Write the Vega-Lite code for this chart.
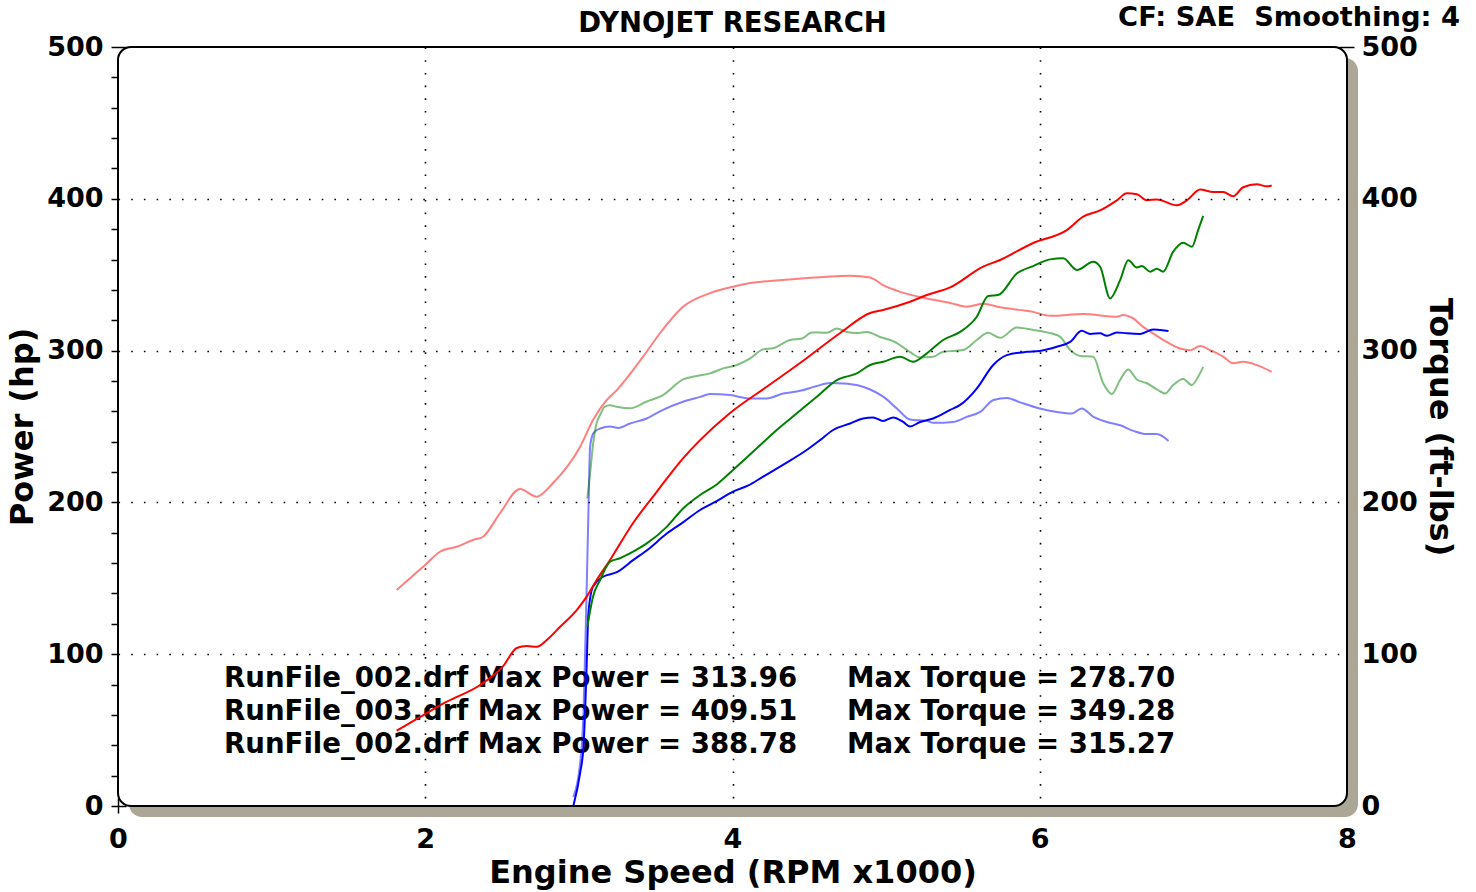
{
  "$schema": "https://vega.github.io/schema/vega-lite/v6.json",
  "width": 1229,
  "height": 759,
  "autosize": {"type": "none"},
  "padding": {"left": 118, "top": 47, "right": 129, "bottom": 86},
  "background": "white",
  "config": {
    "view": {"stroke": null},
    "axis": {
      "domain": false, "offset": -8, "tickSize": 15, "tickWidth": 1.5, "tickColor": "black",
      "labelFont": "DejaVu Sans", "labelFontSize": 27, "labelFontWeight": "bold", "labelColor": "black",
      "titleFont": "DejaVu Sans", "titleFontSize": 32, "titleFontWeight": "bold", "titleColor": "black",
      "gridColor": "black", "gridDash": [1.6, 11.1], "gridWidth": 1.6,
      "labelOverlap": false, "labelFlush": false, "zindex": 1
    },
    "text": {"font": "DejaVu Sans", "fontWeight": "bold", "fontSize": 27.6, "color": "black"}
  },
  "datasets": {
    "curves": [
      {"run":"002a","measure":"Power","rpm":2.965,"value":0.5},
      {"run":"002a","measure":"Power","rpm":3.008,"value":21.7},
      {"run":"002a","measure":"Power","rpm":3.03,"value":39},
      {"run":"002a","measure":"Power","rpm":3.04,"value":61},
      {"run":"002a","measure":"Power","rpm":3.051,"value":94},
      {"run":"002a","measure":"Power","rpm":3.062,"value":127},
      {"run":"002a","measure":"Power","rpm":3.092,"value":144.5},
      {"run":"002a","measure":"Power","rpm":3.157,"value":151},
      {"run":"002a","measure":"Power","rpm":3.247,"value":154},
      {"run":"002a","measure":"Power","rpm":3.353,"value":162},
      {"run":"002a","measure":"Power","rpm":3.45,"value":169},
      {"run":"002a","measure":"Power","rpm":3.572,"value":179.5},
      {"run":"002a","measure":"Power","rpm":3.68,"value":187},
      {"run":"002a","measure":"Power","rpm":3.789,"value":195},
      {"run":"002a","measure":"Power","rpm":3.9,"value":201},
      {"run":"002a","measure":"Power","rpm":4.0,"value":207},
      {"run":"002a","measure":"Power","rpm":4.1,"value":211},
      {"run":"002a","measure":"Power","rpm":4.2,"value":217},
      {"run":"002a","measure":"Power","rpm":4.35,"value":226},
      {"run":"002a","measure":"Power","rpm":4.483,"value":234.5},
      {"run":"002a","measure":"Power","rpm":4.57,"value":241},
      {"run":"002a","measure":"Power","rpm":4.655,"value":247.7},
      {"run":"002a","measure":"Power","rpm":4.766,"value":252},
      {"run":"002a","measure":"Power","rpm":4.85,"value":255.3},
      {"run":"002a","measure":"Power","rpm":4.915,"value":256},
      {"run":"002a","measure":"Power","rpm":4.98,"value":253.7},
      {"run":"002a","measure":"Power","rpm":5.046,"value":256},
      {"run":"002a","measure":"Power","rpm":5.111,"value":253},
      {"run":"002a","measure":"Power","rpm":5.156,"value":250},
      {"run":"002a","measure":"Power","rpm":5.221,"value":253},
      {"run":"002a","measure":"Power","rpm":5.306,"value":255.3},
      {"run":"002a","measure":"Power","rpm":5.417,"value":260.9},
      {"run":"002a","measure":"Power","rpm":5.482,"value":264.2},
      {"run":"002a","measure":"Power","rpm":5.59,"value":275},
      {"run":"002a","measure":"Power","rpm":5.697,"value":290.5},
      {"run":"002a","measure":"Power","rpm":5.786,"value":297},
      {"run":"002a","measure":"Power","rpm":5.916,"value":299.2},
      {"run":"002a","measure":"Power","rpm":6.0,"value":299.8},
      {"run":"002a","measure":"Power","rpm":6.111,"value":302.5},
      {"run":"002a","measure":"Power","rpm":6.198,"value":305.7},
      {"run":"002a","measure":"Power","rpm":6.273,"value":313},
      {"run":"002a","measure":"Power","rpm":6.328,"value":311},
      {"run":"002a","measure":"Power","rpm":6.393,"value":311.4},
      {"run":"002a","measure":"Power","rpm":6.437,"value":309.8},
      {"run":"002a","measure":"Power","rpm":6.502,"value":312},
      {"run":"002a","measure":"Power","rpm":6.567,"value":311.4},
      {"run":"002a","measure":"Power","rpm":6.654,"value":311},
      {"run":"002a","measure":"Power","rpm":6.74,"value":313.96},
      {"run":"002a","measure":"Power","rpm":6.784,"value":313.5},
      {"run":"002a","measure":"Power","rpm":6.838,"value":312.9},

      {"run":"002a","measure":"Torque","rpm":2.964,"value":6},
      {"run":"002a","measure":"Torque","rpm":3.008,"value":28},
      {"run":"002a","measure":"Torque","rpm":3.03,"value":61},
      {"run":"002a","measure":"Torque","rpm":3.047,"value":127},
      {"run":"002a","measure":"Torque","rpm":3.062,"value":193},
      {"run":"002a","measure":"Torque","rpm":3.073,"value":236.7},
      {"run":"002a","measure":"Torque","rpm":3.094,"value":245.5},
      {"run":"002a","measure":"Torque","rpm":3.138,"value":248.7},
      {"run":"002a","measure":"Torque","rpm":3.203,"value":250},
      {"run":"002a","measure":"Torque","rpm":3.257,"value":249},
      {"run":"002a","measure":"Torque","rpm":3.333,"value":252},
      {"run":"002a","measure":"Torque","rpm":3.442,"value":255.3},
      {"run":"002a","measure":"Torque","rpm":3.548,"value":261},
      {"run":"002a","measure":"Torque","rpm":3.678,"value":266.3},
      {"run":"002a","measure":"Torque","rpm":3.789,"value":269.5},
      {"run":"002a","measure":"Torque","rpm":3.854,"value":271.4},
      {"run":"002a","measure":"Torque","rpm":3.984,"value":270.7},
      {"run":"002a","measure":"Torque","rpm":4.115,"value":268.5},
      {"run":"002a","measure":"Torque","rpm":4.223,"value":268.5},
      {"run":"002a","measure":"Torque","rpm":4.33,"value":271.7},
      {"run":"002a","measure":"Torque","rpm":4.44,"value":273.5},
      {"run":"002a","measure":"Torque","rpm":4.549,"value":276.7},
      {"run":"002a","measure":"Torque","rpm":4.635,"value":278.7},
      {"run":"002a","measure":"Torque","rpm":4.722,"value":278.4},
      {"run":"002a","measure":"Torque","rpm":4.809,"value":277.3},
      {"run":"002a","measure":"Torque","rpm":4.896,"value":274.4},
      {"run":"002a","measure":"Torque","rpm":4.983,"value":269.5},
      {"run":"002a","measure":"Torque","rpm":5.07,"value":261.9},
      {"run":"002a","measure":"Torque","rpm":5.156,"value":254.6},
      {"run":"002a","measure":"Torque","rpm":5.265,"value":253.7},
      {"run":"002a","measure":"Torque","rpm":5.308,"value":252.4},
      {"run":"002a","measure":"Torque","rpm":5.438,"value":253},
      {"run":"002a","measure":"Torque","rpm":5.525,"value":256.3},
      {"run":"002a","measure":"Torque","rpm":5.612,"value":259.6},
      {"run":"002a","measure":"Torque","rpm":5.699,"value":267.5},
      {"run":"002a","measure":"Torque","rpm":5.786,"value":268.8},
      {"run":"002a","measure":"Torque","rpm":5.872,"value":265.9},
      {"run":"002a","measure":"Torque","rpm":6.0,"value":261.9},
      {"run":"002a","measure":"Torque","rpm":6.111,"value":259.6},
      {"run":"002a","measure":"Torque","rpm":6.209,"value":258.5},
      {"run":"002a","measure":"Torque","rpm":6.273,"value":261.9},
      {"run":"002a","measure":"Torque","rpm":6.35,"value":256.3},
      {"run":"002a","measure":"Torque","rpm":6.437,"value":253},
      {"run":"002a","measure":"Torque","rpm":6.523,"value":250.8},
      {"run":"002a","measure":"Torque","rpm":6.61,"value":247.1},
      {"run":"002a","measure":"Torque","rpm":6.697,"value":245},
      {"run":"002a","measure":"Torque","rpm":6.762,"value":245},
      {"run":"002a","measure":"Torque","rpm":6.838,"value":240.5},

      {"run":"003","measure":"Power","rpm":1.814,"value":49.6},
      {"run":"003","measure":"Power","rpm":1.999,"value":60.6},
      {"run":"003","measure":"Power","rpm":2.14,"value":68.7},
      {"run":"003","measure":"Power","rpm":2.357,"value":79.7},
      {"run":"003","measure":"Power","rpm":2.507,"value":92.2},
      {"run":"003","measure":"Power","rpm":2.596,"value":104.1},
      {"run":"003","measure":"Power","rpm":2.661,"value":105.4},
      {"run":"003","measure":"Power","rpm":2.726,"value":104.9},
      {"run":"003","measure":"Power","rpm":2.791,"value":109.4},
      {"run":"003","measure":"Power","rpm":2.878,"value":118.1},
      {"run":"003","measure":"Power","rpm":2.986,"value":129.1},
      {"run":"003","measure":"Power","rpm":3.051,"value":137.9},
      {"run":"003","measure":"Power","rpm":3.116,"value":148.9},
      {"run":"003","measure":"Power","rpm":3.203,"value":162.1},
      {"run":"003","measure":"Power","rpm":3.353,"value":186.4},
      {"run":"003","measure":"Power","rpm":3.507,"value":207},
      {"run":"003","measure":"Power","rpm":3.678,"value":229},
      {"run":"003","measure":"Power","rpm":3.789,"value":241},
      {"run":"003","measure":"Power","rpm":3.984,"value":258.9},
      {"run":"003","measure":"Power","rpm":4.223,"value":276.2},
      {"run":"003","measure":"Power","rpm":4.44,"value":291.8},
      {"run":"003","measure":"Power","rpm":4.701,"value":311.6},
      {"run":"003","measure":"Power","rpm":4.896,"value":324.8},
      {"run":"003","measure":"Power","rpm":4.98,"value":326.8},
      {"run":"003","measure":"Power","rpm":5.156,"value":332.2},
      {"run":"003","measure":"Power","rpm":5.265,"value":336.6},
      {"run":"003","measure":"Power","rpm":5.417,"value":341.7},
      {"run":"003","measure":"Power","rpm":5.632,"value":355.3},
      {"run":"003","measure":"Power","rpm":5.742,"value":359.7},
      {"run":"003","measure":"Power","rpm":5.957,"value":370.9},
      {"run":"003","measure":"Power","rpm":6.176,"value":379.4},
      {"run":"003","measure":"Power","rpm":6.283,"value":388.3},
      {"run":"003","measure":"Power","rpm":6.393,"value":392.4},
      {"run":"003","measure":"Power","rpm":6.502,"value":399},
      {"run":"003","measure":"Power","rpm":6.567,"value":403.6},
      {"run":"003","measure":"Power","rpm":6.632,"value":403},
      {"run":"003","measure":"Power","rpm":6.697,"value":399},
      {"run":"003","measure":"Power","rpm":6.762,"value":399.6},
      {"run":"003","measure":"Power","rpm":6.892,"value":395.7},
      {"run":"003","measure":"Power","rpm":6.958,"value":399},
      {"run":"003","measure":"Power","rpm":7.044,"value":406.2},
      {"run":"003","measure":"Power","rpm":7.129,"value":404.5},
      {"run":"003","measure":"Power","rpm":7.194,"value":404.5},
      {"run":"003","measure":"Power","rpm":7.259,"value":401.6},
      {"run":"003","measure":"Power","rpm":7.324,"value":407.6},
      {"run":"003","measure":"Power","rpm":7.413,"value":409.51},
      {"run":"003","measure":"Power","rpm":7.478,"value":408.2},
      {"run":"003","measure":"Power","rpm":7.51,"value":408.8},

      {"run":"003","measure":"Torque","rpm":1.814,"value":142.3},
      {"run":"003","measure":"Torque","rpm":1.999,"value":158.8},
      {"run":"003","measure":"Torque","rpm":2.096,"value":167.5},
      {"run":"003","measure":"Torque","rpm":2.205,"value":170.8},
      {"run":"003","measure":"Torque","rpm":2.311,"value":175.2},
      {"run":"003","measure":"Torque","rpm":2.376,"value":177.4},
      {"run":"003","measure":"Torque","rpm":2.487,"value":193},
      {"run":"003","measure":"Torque","rpm":2.617,"value":208.8},
      {"run":"003","measure":"Torque","rpm":2.726,"value":203.8},
      {"run":"003","measure":"Torque","rpm":2.832,"value":212.8},
      {"run":"003","measure":"Torque","rpm":3.008,"value":236.7},
      {"run":"003","measure":"Torque","rpm":3.092,"value":254.3},
      {"run":"003","measure":"Torque","rpm":3.182,"value":267.5},
      {"run":"003","measure":"Torque","rpm":3.247,"value":274},
      {"run":"003","measure":"Torque","rpm":3.418,"value":296},
      {"run":"003","measure":"Torque","rpm":3.529,"value":311.6},
      {"run":"003","measure":"Torque","rpm":3.678,"value":328.9},
      {"run":"003","measure":"Torque","rpm":3.854,"value":337.9},
      {"run":"003","measure":"Torque","rpm":4.004,"value":342.1},
      {"run":"003","measure":"Torque","rpm":4.115,"value":344.5},
      {"run":"003","measure":"Torque","rpm":4.329,"value":346.5},
      {"run":"003","measure":"Torque","rpm":4.614,"value":348.7},
      {"run":"003","measure":"Torque","rpm":4.766,"value":349.28},
      {"run":"003","measure":"Torque","rpm":4.896,"value":348.2},
      {"run":"003","measure":"Torque","rpm":4.98,"value":343.1},
      {"run":"003","measure":"Torque","rpm":5.091,"value":338.7},
      {"run":"003","measure":"Torque","rpm":5.265,"value":334.3},
      {"run":"003","measure":"Torque","rpm":5.417,"value":331.4},
      {"run":"003","measure":"Torque","rpm":5.525,"value":328.9},
      {"run":"003","measure":"Torque","rpm":5.632,"value":330.8},
      {"run":"003","measure":"Torque","rpm":5.742,"value":328.5},
      {"run":"003","measure":"Torque","rpm":5.957,"value":325.5},
      {"run":"003","measure":"Torque","rpm":6.068,"value":322.9},
      {"run":"003","measure":"Torque","rpm":6.283,"value":324.1},
      {"run":"003","measure":"Torque","rpm":6.502,"value":322.3},
      {"run":"003","measure":"Torque","rpm":6.543,"value":323.5},
      {"run":"003","measure":"Torque","rpm":6.608,"value":321.2},
      {"run":"003","measure":"Torque","rpm":6.673,"value":315.6},
      {"run":"003","measure":"Torque","rpm":6.738,"value":311.3},
      {"run":"003","measure":"Torque","rpm":6.827,"value":305.7},
      {"run":"003","measure":"Torque","rpm":6.914,"value":301.4},
      {"run":"003","measure":"Torque","rpm":6.979,"value":300.3},
      {"run":"003","measure":"Torque","rpm":7.044,"value":303},
      {"run":"003","measure":"Torque","rpm":7.109,"value":300.3},
      {"run":"003","measure":"Torque","rpm":7.194,"value":296},
      {"run":"003","measure":"Torque","rpm":7.259,"value":291.6},
      {"run":"003","measure":"Torque","rpm":7.324,"value":292.6},
      {"run":"003","measure":"Torque","rpm":7.413,"value":290.4},
      {"run":"003","measure":"Torque","rpm":7.51,"value":286},

      {"run":"002b","measure":"Power","rpm":3.055,"value":118},
      {"run":"002b","measure":"Power","rpm":3.092,"value":137.9},
      {"run":"002b","measure":"Power","rpm":3.138,"value":148.9},
      {"run":"002b","measure":"Power","rpm":3.203,"value":160.9},
      {"run":"002b","measure":"Power","rpm":3.268,"value":163.2},
      {"run":"002b","measure":"Power","rpm":3.353,"value":167.5},
      {"run":"002b","measure":"Power","rpm":3.442,"value":173},
      {"run":"002b","measure":"Power","rpm":3.572,"value":183.9},
      {"run":"002b","measure":"Power","rpm":3.678,"value":196},
      {"run":"002b","measure":"Power","rpm":3.789,"value":204.9},
      {"run":"002b","measure":"Power","rpm":3.9,"value":212},
      {"run":"002b","measure":"Power","rpm":4.0,"value":221},
      {"run":"002b","measure":"Power","rpm":4.158,"value":235.6},
      {"run":"002b","measure":"Power","rpm":4.288,"value":247.7},
      {"run":"002b","measure":"Power","rpm":4.419,"value":258.7},
      {"run":"002b","measure":"Power","rpm":4.549,"value":269.6},
      {"run":"002b","measure":"Power","rpm":4.679,"value":280.6},
      {"run":"002b","measure":"Power","rpm":4.809,"value":285},
      {"run":"002b","measure":"Power","rpm":4.896,"value":290.5},
      {"run":"002b","measure":"Power","rpm":4.98,"value":292.6},
      {"run":"002b","measure":"Power","rpm":5.091,"value":296},
      {"run":"002b","measure":"Power","rpm":5.176,"value":292.6},
      {"run":"002b","measure":"Power","rpm":5.265,"value":298.2},
      {"run":"002b","measure":"Power","rpm":5.371,"value":307},
      {"run":"002b","measure":"Power","rpm":5.482,"value":312.3},
      {"run":"002b","measure":"Power","rpm":5.59,"value":322.3},
      {"run":"002b","measure":"Power","rpm":5.664,"value":336},
      {"run":"002b","measure":"Power","rpm":5.729,"value":336.6},
      {"run":"002b","measure":"Power","rpm":5.851,"value":350.8},
      {"run":"002b","measure":"Power","rpm":5.957,"value":355.7},
      {"run":"002b","measure":"Power","rpm":6.068,"value":360.1},
      {"run":"002b","measure":"Power","rpm":6.152,"value":360.8},
      {"run":"002b","measure":"Power","rpm":6.242,"value":353.1},
      {"run":"002b","measure":"Power","rpm":6.348,"value":358.5},
      {"run":"002b","measure":"Power","rpm":6.393,"value":355.2},
      {"run":"002b","measure":"Power","rpm":6.458,"value":334.4},
      {"run":"002b","measure":"Power","rpm":6.523,"value":346.4},
      {"run":"002b","measure":"Power","rpm":6.576,"value":359.6},
      {"run":"002b","measure":"Power","rpm":6.632,"value":354.8},
      {"run":"002b","measure":"Power","rpm":6.665,"value":355.7},
      {"run":"002b","measure":"Power","rpm":6.719,"value":352},
      {"run":"002b","measure":"Power","rpm":6.762,"value":354},
      {"run":"002b","measure":"Power","rpm":6.803,"value":352},
      {"run":"002b","measure":"Power","rpm":6.868,"value":365},
      {"run":"002b","measure":"Power","rpm":6.934,"value":371},
      {"run":"002b","measure":"Power","rpm":6.99,"value":368.4},
      {"run":"002b","measure":"Power","rpm":7.031,"value":379.4},
      {"run":"002b","measure":"Power","rpm":7.064,"value":388.78},

      {"run":"002b","measure":"Torque","rpm":3.055,"value":202.6},
      {"run":"002b","measure":"Torque","rpm":3.073,"value":219},
      {"run":"002b","measure":"Torque","rpm":3.092,"value":238},
      {"run":"002b","measure":"Torque","rpm":3.11,"value":250},
      {"run":"002b","measure":"Torque","rpm":3.14,"value":258},
      {"run":"002b","measure":"Torque","rpm":3.167,"value":263},
      {"run":"002b","measure":"Torque","rpm":3.203,"value":264},
      {"run":"002b","measure":"Torque","rpm":3.247,"value":263},
      {"run":"002b","measure":"Torque","rpm":3.333,"value":262},
      {"run":"002b","measure":"Torque","rpm":3.442,"value":266.5},
      {"run":"002b","measure":"Torque","rpm":3.548,"value":270.7},
      {"run":"002b","measure":"Torque","rpm":3.678,"value":281},
      {"run":"002b","measure":"Torque","rpm":3.768,"value":283.3},
      {"run":"002b","measure":"Torque","rpm":3.854,"value":285},
      {"run":"002b","measure":"Torque","rpm":3.939,"value":288.3},
      {"run":"002b","measure":"Torque","rpm":4.028,"value":290.5},
      {"run":"002b","measure":"Torque","rpm":4.115,"value":294.9},
      {"run":"002b","measure":"Torque","rpm":4.199,"value":300.8},
      {"run":"002b","measure":"Torque","rpm":4.264,"value":301.6},
      {"run":"002b","measure":"Torque","rpm":4.375,"value":307},
      {"run":"002b","measure":"Torque","rpm":4.453,"value":308},
      {"run":"002b","measure":"Torque","rpm":4.518,"value":312},
      {"run":"002b","measure":"Torque","rpm":4.614,"value":311.7},
      {"run":"002b","measure":"Torque","rpm":4.679,"value":314.6},
      {"run":"002b","measure":"Torque","rpm":4.744,"value":312.3},
      {"run":"002b","measure":"Torque","rpm":4.809,"value":311.6},
      {"run":"002b","measure":"Torque","rpm":4.874,"value":312.3},
      {"run":"002b","measure":"Torque","rpm":4.961,"value":309},
      {"run":"002b","measure":"Torque","rpm":5.07,"value":305},
      {"run":"002b","measure":"Torque","rpm":5.156,"value":299},
      {"run":"002b","measure":"Torque","rpm":5.221,"value":295.5},
      {"run":"002b","measure":"Torque","rpm":5.306,"value":296},
      {"run":"002b","measure":"Torque","rpm":5.371,"value":299.2},
      {"run":"002b","measure":"Torque","rpm":5.501,"value":300.4},
      {"run":"002b","measure":"Torque","rpm":5.59,"value":307},
      {"run":"002b","measure":"Torque","rpm":5.664,"value":311.7},
      {"run":"002b","measure":"Torque","rpm":5.742,"value":308.4},
      {"run":"002b","measure":"Torque","rpm":5.851,"value":315.27},
      {"run":"002b","measure":"Torque","rpm":5.957,"value":313.6},
      {"run":"002b","measure":"Torque","rpm":6.046,"value":312},
      {"run":"002b","measure":"Torque","rpm":6.133,"value":309},
      {"run":"002b","measure":"Torque","rpm":6.198,"value":300.4},
      {"run":"002b","measure":"Torque","rpm":6.263,"value":296.5},
      {"run":"002b","measure":"Torque","rpm":6.348,"value":296},
      {"run":"002b","measure":"Torque","rpm":6.413,"value":278.5},
      {"run":"002b","measure":"Torque","rpm":6.469,"value":271.4},
      {"run":"002b","measure":"Torque","rpm":6.523,"value":280.6},
      {"run":"002b","measure":"Torque","rpm":6.576,"value":287.6},
      {"run":"002b","measure":"Torque","rpm":6.632,"value":281},
      {"run":"002b","measure":"Torque","rpm":6.697,"value":278.5},
      {"run":"002b","measure":"Torque","rpm":6.762,"value":274.5},
      {"run":"002b","measure":"Torque","rpm":6.816,"value":271.7},
      {"run":"002b","measure":"Torque","rpm":6.868,"value":277.3},
      {"run":"002b","measure":"Torque","rpm":6.934,"value":281.3},
      {"run":"002b","measure":"Torque","rpm":6.99,"value":277.3},
      {"run":"002b","measure":"Torque","rpm":7.031,"value":282.8},
      {"run":"002b","measure":"Torque","rpm":7.064,"value":289.3}
    ]
  },
  "resolve": {"axis": {"x": "independent", "y": "independent"}},
  "layer": [
    {
      "data": {"values": [{}]},
      "mark": {"type": "rect", "fill": "#aba696", "cornerRadius": 13, "xOffset": 11, "x2Offset": 11, "yOffset": 11, "y2Offset": 11, "clip": false},
      "encoding": {
        "x": {"datum": 0, "type": "quantitative", "scale": {"domain": [0, 8], "nice": false}, "axis": null},
        "x2": {"datum": 8},
        "y": {"datum": 0, "type": "quantitative", "scale": {"domain": [0, 500], "nice": false}, "axis": null},
        "y2": {"datum": 500}
      }
    },
    {
      "data": {"values": [{}]},
      "mark": {"type": "rect", "fill": "white", "stroke": "black", "strokeWidth": 2, "cornerRadius": 13, "clip": false},
      "encoding": {
        "x": {"datum": 0, "type": "quantitative", "scale": {"domain": [0, 8], "nice": false},
          "axis": {"orient": "bottom", "values": [2, 4, 6], "grid": true, "ticks": false, "labels": false, "domain": false, "offset": 0, "title": null, "zindex": 1}},
        "x2": {"datum": 8},
        "y": {"datum": 0, "type": "quantitative", "scale": {"domain": [0, 500], "nice": false},
          "axis": {"orient": "left", "values": [100, 200, 300, 400], "grid": true, "ticks": false, "labels": false, "domain": false, "offset": 0, "title": null, "zindex": 1}},
        "y2": {"datum": 500}
      }
    },
    {
      "data": {"values": [
        {"run": "RunFile_002.drf", "maxPower": 313.96, "maxTorque": 278.70, "baseline": 78.6},
        {"run": "RunFile_003.drf", "maxPower": 409.51, "maxTorque": 349.28, "baseline": 56.6},
        {"run": "RunFile_002.drf", "maxPower": 388.78, "maxTorque": 315.27, "baseline": 34.6}
      ]},
      "transform": [
        {"calculate": "datum.run + ' Max Power = ' + format(datum.maxPower, '.2f')", "as": "powerText"},
        {"calculate": "'Max Torque = ' + format(datum.maxTorque, '.2f')", "as": "torqueText"}
      ],
      "encoding": {
        "y": {"field": "baseline", "type": "quantitative", "axis": null}
      },
      "layer": [
        {
          "mark": {"type": "text", "align": "left", "baseline": "alphabetic"},
          "encoding": {"x": {"datum": 0.69, "type": "quantitative", "axis": null}, "text": {"field": "powerText"}}
        },
        {
          "mark": {"type": "text", "align": "left", "baseline": "alphabetic"},
          "encoding": {"x": {"datum": 4.746, "type": "quantitative", "axis": null}, "text": {"field": "torqueText"}}
        }
      ]
    },
    {
      "data": {"values": [{"note": "DYNOJET RESEARCH"}]},
      "mark": {"type": "text", "align": "center", "baseline": "middle", "dy": -23, "fontSize": 27.5},
      "encoding": {
        "x": {"datum": 4, "type": "quantitative", "axis": null},
        "y": {"datum": 500, "type": "quantitative", "axis": null},
        "text": {"field": "note"}
      }
    },
    {
      "data": {"values": [{"note": "CF: SAE\u00a0 Smoothing: 4"}]},
      "mark": {"type": "text", "align": "right", "baseline": "middle", "dx": 113, "dy": -29, "fontSize": 27.3},
      "encoding": {
        "x": {"datum": 8, "type": "quantitative", "axis": null},
        "y": {"datum": 500, "type": "quantitative", "axis": null},
        "text": {"field": "note"}
      }
    },
    {
      "data": {"name": "curves"},
      "transform": [{"filter": "datum.measure === 'Torque'"}],
      "mark": {"type": "line", "strokeWidth": 2, "interpolate": "monotone", "opacity": 0.5},
      "encoding": {
        "x": {"field": "rpm", "type": "quantitative", "scale": {"domain": [0, 8], "nice": false}, "axis": null},
        "y": {"field": "value", "type": "quantitative", "scale": {"domain": [0, 500], "nice": false},
          "axis": {"orient": "right", "title": "Torque (ft-lbs)", "values": [0,20,40,60,80,100,120,140,160,180,200,220,240,260,280,300,320,340,360,380,400,420,440,460,480,500],
            "labelExpr": "datum.value % 100 === 0 ? format(datum.value, 'd') : ''", "labelPadding": 7, "titlePadding": 5, "grid": false}},
        "color": {"field": "run", "type": "nominal", "scale": {"domain": ["002a", "003", "002b"], "range": ["#0000ff", "#ff0000", "#008000"]}, "legend": null}
      }
    },
    {
      "data": {"name": "curves"},
      "transform": [{"filter": "datum.measure === 'Power'"}],
      "mark": {"type": "line", "strokeWidth": 2, "interpolate": "monotone"},
      "encoding": {
        "x": {"field": "rpm", "type": "quantitative", "scale": {"domain": [0, 8], "nice": false},
          "axis": {"orient": "bottom", "title": "Engine Speed (RPM x1000)", "values": [0,0.5,1,1.5,2,2.5,3,3.5,4,4.5,5,5.5,6,6.5,7,7.5,8],
            "labelExpr": "datum.value % 2 === 0 ? format(datum.value, 'd') : ''", "labelPadding": 13, "titlePadding": 5, "grid": false}},
        "y": {"field": "value", "type": "quantitative", "scale": {"domain": [0, 500], "nice": false},
          "axis": {"orient": "left", "title": "Power (hp)", "values": [0,20,40,60,80,100,120,140,160,180,200,220,240,260,280,300,320,340,360,380,400,420,440,460,480,500],
            "labelExpr": "datum.value % 100 === 0 ? format(datum.value, 'd') : ''", "labelPadding": 8, "titlePadding": 7, "grid": false}},
        "color": {"field": "run", "type": "nominal", "scale": {"domain": ["002a", "003", "002b"], "range": ["#0000ff", "#ff0000", "#008000"]}, "legend": null}
      }
    }
  ]
}
